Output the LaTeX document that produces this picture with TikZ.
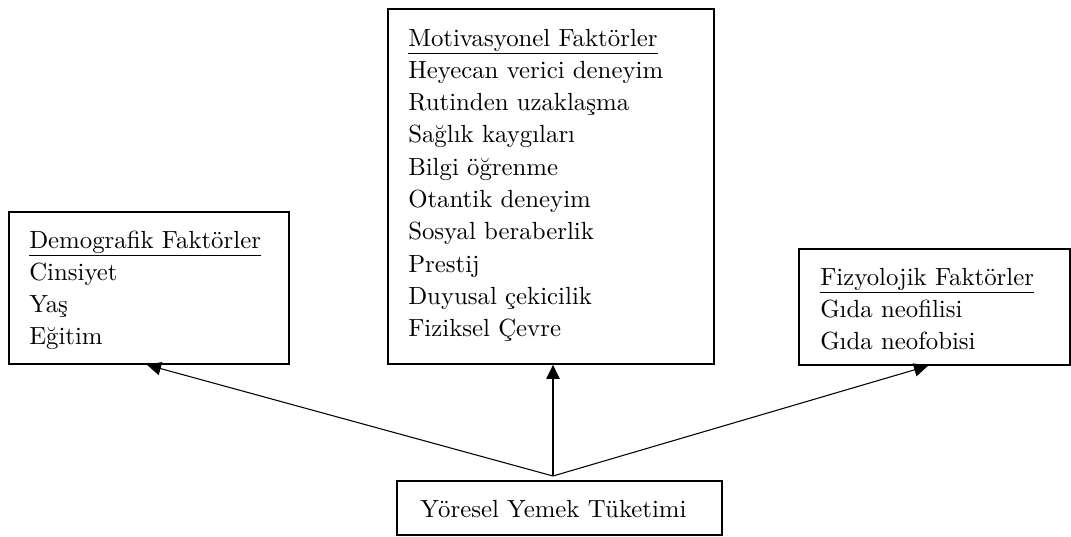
\documentclass[tikz,border=0pt]{standalone}
\usepackage{fontspec}
\setmainfont{lmroman10-regular.otf}
\usetikzlibrary{fit,arrows.meta}
\begin{document}
\begin{tikzpicture}[x=0.75pt,y=-0.75pt,
  box/.style={draw=black,line width=1.3pt,inner sep=0pt},
  txt/.style={anchor=base west,inner sep=0pt,font=\fontsize{18.6}{21}\selectfont},
  arr/.style={line width=0.8pt,-{Triangle[length=10.5pt,width=10pt]}}]
\useasboundingbox (0,0) rectangle (1071,536);
% boxes
\node[box,fit={(9,212)(289,364)}] (demo) {};
\node[box,fit={(388,9)(714,364)}] (motiv) {};
\node[box,fit={(799,249)(1070,365)}] (fizyo) {};
\node[box,fit={(397,481)(722,535)}] (yore) {};
% left texts
\node[txt] (d0) at (29,248) {\underline{Demografik Faktörler}};
\node[txt] (d1) at (29,280.3) {Cinsiyet};
\node[txt] (d2) at (29,312.6) {Yaş};
\node[txt] (d3) at (29,344.9) {Eğitim};
% middle texts
\node[txt] (m0) at (408,46) {\underline{Motivasyonel Faktörler}};
\node[txt] (m1) at (408,78.3) {Heyecan verici deneyim};
\node[txt] (m2) at (408,110.6) {Rutinden uzaklaşma};
\node[txt] (m3) at (408,142.9) {Sağlık kaygıları};
\node[txt] (m4) at (408,175.2) {Bilgi öğrenme};
\node[txt] (m5) at (408,207.5) {Otantik deneyim};
\node[txt] (m6) at (408,239.8) {Sosyal beraberlik};
\node[txt] (m7) at (408,272.1) {Prestij};
\node[txt] (m8) at (408,304.4) {Duyusal çekicilik};
\node[txt] (m9) at (408,336.7) {Fiziksel Çevre};
% right texts
\node[txt] (f0) at (820,285) {\underline{Fizyolojik Faktörler}};
\node[txt] (f1) at (820,317) {Gıda neofilisi};
\node[txt] (f2) at (820,349) {Gıda neofobisi};
% bottom text
\node[txt] (y0) at (420,517) {Yöresel Yemek Tüketimi};
% connectors
\coordinate (hub) at (553,476);
\draw[arr] (hub) -- (147,0 |- demo.south);
\draw[arr] (hub) -- (hub |- motiv.south);
\draw[arr] (hub) -- (928,0 |- fizyo.south);
\end{tikzpicture}
\end{document}
